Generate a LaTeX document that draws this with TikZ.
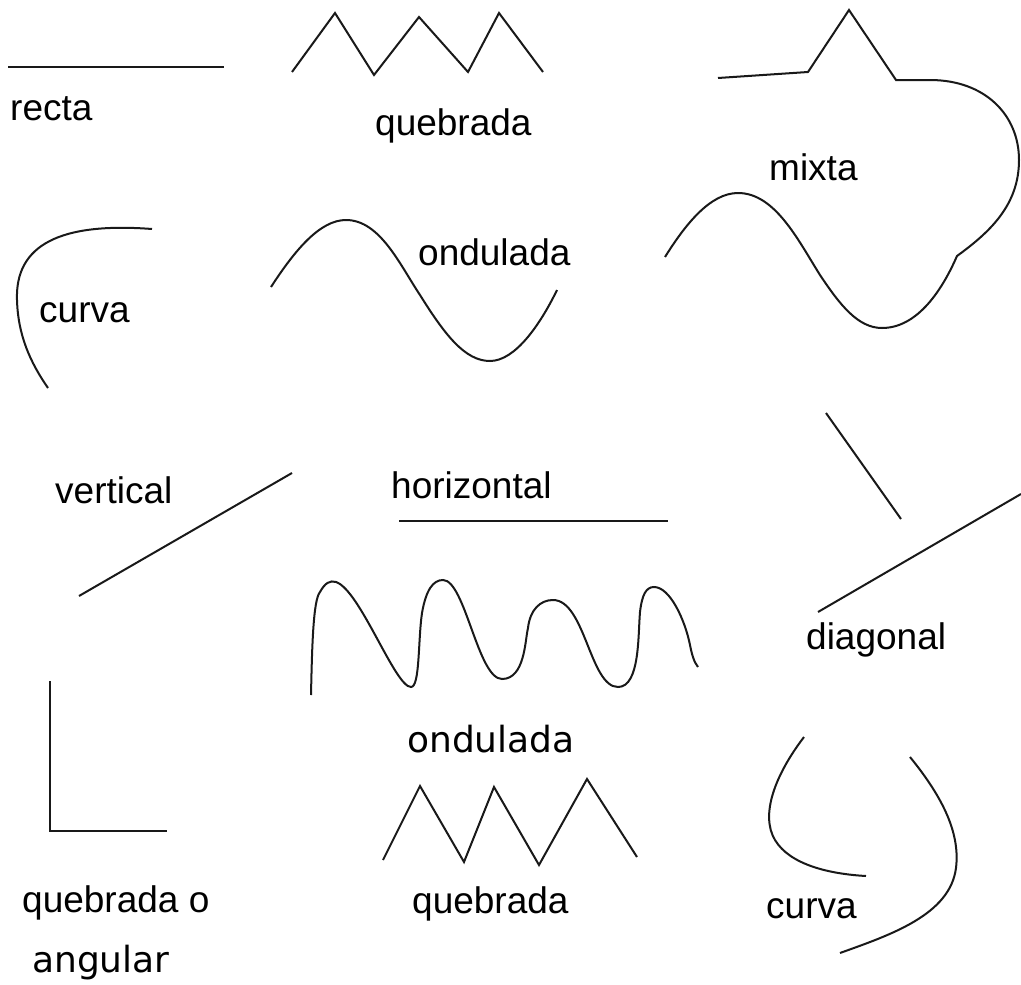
\documentclass[tikz,border=0pt]{standalone}
\usepackage{fontspec}
\setmainfont{Liberation Sans}
\newfontfamily\djv{DejaVu Sans}
\begin{document}
\begin{tikzpicture}[x=1pt,y=-1pt,
  ln/.style={line width=2pt,black!90,line join=miter},
  lbl/.style={anchor=base west,inner sep=0pt,font=\fontsize{37}{44}\selectfont},
  lbldv/.style={anchor=base west,inner sep=0pt,font=\djv\fontsize{36}{44}\selectfont}]
\useasboundingbox (0,0) rectangle (1021,985);
% recta
\coordinate (r1) at (8,67); \coordinate (r2) at (224,67);
\draw[ln] (r1) -- (r2);
\node[lbl] (trecta) at (10,120) {recta};
% quebrada top
\draw[ln] (292,72) -- (335,13) -- (374,75) -- (419,17) -- (468,72) -- (499,13) -- (543,72);
\node[lbl] (tqueb1) at (375,135) {quebrada};
% mixta
\draw[ln] (718,78) -- (808,72) -- (849,10) -- (896,80) -- (930,80)
  .. controls (985,80) and (1019,115) .. (1019,160)
  .. controls (1019,205) and (990,232) .. (957,256)
  .. controls (940,295) and (915,328) .. (882,328)
  .. controls (858,328) and (840,305) .. (820,275)
  .. controls (798,240) and (775,193) .. (738,193)
  .. controls (710,193) and (685,225) .. (665,257);
\node[lbl] (tmixta) at (769,180) {mixta};
% curva top-left
\draw[ln] (152,229) .. controls (60,222) and (15,245) .. (17,300)
  .. controls (18,335) and (30,362) .. (48,388);
\node[lbl] (tcurva1) at (39,322) {curva};
% ondulada top
\draw[ln] (271,287) .. controls (295,250) and (320,220) .. (346,220)
  .. controls (380,220) and (400,265) .. (420,295)
  .. controls (445,335) and (465,361) .. (490,361)
  .. controls (515,361) and (540,325) .. (557,290);
\node[lbl] (tond1) at (418,265) {ondulada};
% vertical (diagonal line)
\draw[ln] (292,473) -- (79,596);
\node[lbl] (tvert) at (55,503) {vertical};
% horizontal
\draw[ln] (399,521) -- (668,521);
\node[lbl] (thoriz) at (391,498) {horizontal};
% wavy
\draw[ln] (311,695) .. controls (312,650) and (313,600) .. (320,592)
  .. controls (325,583) and (330,580) .. (336,582)
  .. controls (360,590) and (395,687) .. (411,687)
  .. controls (420,687) and (418,640) .. (422,613)
  .. controls (426,590) and (433,580) .. (443,580)
  .. controls (465,580) and (478,679) .. (502,679)
  .. controls (525,679) and (525,640) .. (528,628)
  .. controls (530,610) and (540,600) .. (553,600)
  .. controls (585,600) and (590,687) .. (618,687)
  .. controls (640,687) and (638,635) .. (640,612)
  .. controls (642,595) and (646,587) .. (654,587)
  .. controls (670,587) and (685,620) .. (690,645)
  .. controls (692,655) and (694,662) .. (698,667);
% diagonal
\draw[ln] (826,413) -- (901,519);
\draw[ln] (1021,494) -- (818,612);
\node[lbl] (tdiag) at (806,649) {diagonal};
% ondulada bottom
\node[lbldv] (tond2) at (407,752) {ondulada};
% L shape
\draw[ln] (50,681) -- (50,831) -- (167,831);
\node[lbl] (tqueb3) at (22,912) {quebrada o};
\node[lbldv] (tang) at (32,972) {angular};
% quebrada bottom
\draw[ln] (383,860) -- (420,786) -- (464,862) -- (494,787) -- (539,865) -- (587,779) -- (637,857);
\node[lbl] (tqueb2) at (412,913) {quebrada};
% curva bottom right
\draw[ln] (804,737) .. controls (775,775) and (760,815) .. (775,840)
  .. controls (790,865) and (830,874) .. (866,876);
\draw[ln] (910,757) .. controls (945,800) and (960,835) .. (956,868)
  .. controls (950,915) and (890,935) .. (840,953);
\node[lbl] (tcurva2) at (766,918) {curva};
\end{tikzpicture}
\end{document}
